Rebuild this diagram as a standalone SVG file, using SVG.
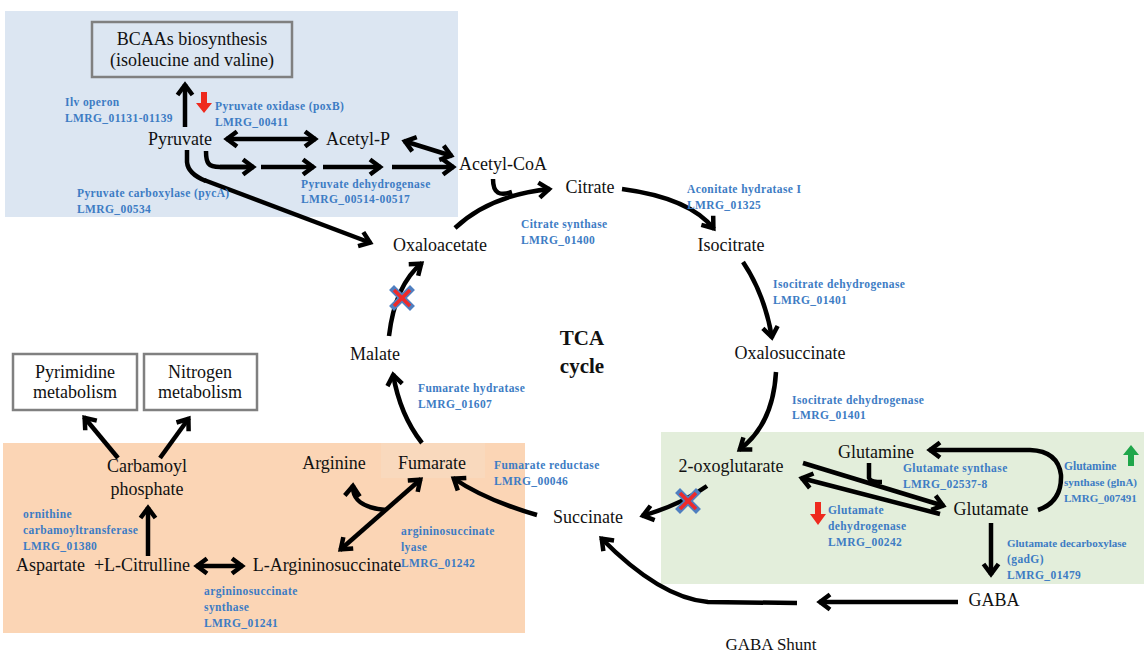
<svg xmlns="http://www.w3.org/2000/svg" width="1144" height="653" viewBox="0 0 1144 653">
<style>
.m{font-family:"Liberation Serif",serif;font-size:18px;fill:#111}
.b{font-family:"Liberation Serif",serif;font-size:11.5px;font-weight:bold;fill:#3d7cc4;letter-spacing:0.4px}
.t{font-family:"Liberation Serif",serif;font-size:21px;font-weight:bold;fill:#111}
.box{fill:#fff;stroke:#808080;stroke-width:2.5}
.a{fill:none;stroke:#000;stroke-width:4.5;marker-end:url(#ah)}
.d{fill:none;stroke:#000;stroke-width:4.5;marker-end:url(#ah);marker-start:url(#ah)}
.l{fill:none;stroke:#000;stroke-width:4.5}
.xb{stroke:#4f7fc0;stroke-width:7;stroke-linecap:square}
.xr{stroke:#ee2a2a;stroke-width:3.5}
</style>
<defs>
<marker id="ah" viewBox="-16 -12 20 24" refX="1" refY="0" markerWidth="20" markerHeight="24" markerUnits="userSpaceOnUse" orient="auto-start-reverse">
<path d="M-10,-7.5 L0,0 L-10,7.5" fill="none" stroke="#000" stroke-width="4.5"/>
</marker>
<g id="xm"><line class="xb" x1="-8" y1="-8" x2="8" y2="8"/><line class="xb" x1="8" y1="-8" x2="-8" y2="8"/><line class="xr" x1="-8" y1="-8" x2="8" y2="8"/><line class="xr" x1="8" y1="-8" x2="-8" y2="8"/></g>
</defs>
<rect width="1144" height="653" fill="#fff"/>
<g id="panels">
<rect x="5" y="11" width="453" height="206" fill="#dce6f2"/>
<rect x="3" y="443" width="522" height="190" fill="#fbd5b5"/>
<rect x="381" y="443" width="104" height="35" fill="#f9d9bd"/>
<rect x="661" y="432" width="483" height="152" fill="#e3eedb"/>
</g>
<g id="connectors">
<path class="a" d="M185,127 L185,84"/>
<path class="d" d="M226,139 L316,139"/>
<path class="d" d="M404,141 L452,156"/>
<path class="l" d="M206,151 C206,163 208,167 220,167 L252,167"/>
<path class="a" d="M220,167 L254,167"/>
<path class="a" d="M261,167 L314,167"/>
<path class="a" d="M323,167 L381,167"/>
<path class="a" d="M392,167 L454,167"/>
<path class="l" d="M187,150 L187,162 Q188,174 206,181"/>
<path class="a" d="M204,180 L371,243"/>
<path class="l" d="M493,179 C493,194 500,196 512,192"/>
<path class="a" d="M455,228 Q490,195 550,189"/>
<path class="a" d="M622,189 Q690,198 714,229"/>
<path class="a" d="M743,262 Q765,295 772,338"/>
<path class="a" d="M776,372 Q773,425 739,450"/>
<path class="a" d="M707,486 Q680,505 642,516"/>
<path class="a" d="M537,515 Q485,500 453,478"/>
<path class="a" d="M422,443 Q400,415 393,374"/>
<path class="a" d="M389,336 Q395,285 422,263"/>
<path class="d" d="M421,479 L340,550"/>
<path class="a" d="M386,510 C362,508 352,500 353,485"/>
<path class="d" d="M196,566 L243,566"/>
<path class="a" d="M148,556 L148,507"/>
<path class="a" d="M118,458 L84,417"/>
<path class="a" d="M160,458 L189,418"/>
<path class="a" d="M958,602 L819,602"/>
<path class="a" d="M797,603 L708,602 Q660,598 601,538"/>
<path class="a" d="M991,523 L991,575"/>
<path class="a" d="M803,463 L944,506"/>
<path class="a" d="M940,514 L801,478"/>
<path class="l" d="M869,463 L869,478 Q870,482 882,482"/>
<path class="a" d="M1038,510 Q1062,502 1061,475 Q1058,451 1030,450 L929,450"/>
<use href="#xm" x="402" y="298"/>
<use href="#xm" x="688" y="501"/>
<polygon points="201,92 207,92 207,103 212,103 204,113 196,103 201,103" fill="#ee2a1e"/>
<polygon points="815,502 821,502 821,514 826,514 818,525 810,514 815,514" fill="#ee2a1e"/>
<polygon points="1128,466 1134,466 1134,455 1139,455 1131,445 1123,455 1128,455" fill="#1fa64a"/>
</g>
<g id="n-bcaa"><rect class="box" x="92" y="22" width="200" height="55" style="fill:#dce6f2"/><text class="m" x="192" y="45" text-anchor="middle">BCAAs biosynthesis</text><text class="m" x="192" y="66" text-anchor="middle">(isoleucine and valine)</text></g>
<g id="n-pyrimidine"><rect class="box" x="13" y="354" width="124" height="56"/><text class="m" x="75" y="378" text-anchor="middle">Pyrimidine</text><text class="m" x="75" y="398" text-anchor="middle">metabolism</text></g>
<g id="n-nitrogen"><rect class="box" x="144" y="354" width="113" height="56"/><text class="m" x="200" y="378" text-anchor="middle">Nitrogen</text><text class="m" x="200" y="398" text-anchor="middle">metabolism</text></g>
<g id="n-pyruvate"><text class="m" x="180" y="145" text-anchor="middle">Pyruvate</text></g>
<g id="n-acetylp"><text class="m" x="358" y="145" text-anchor="middle">Acetyl-P</text></g>
<g id="n-acetylcoa"><text class="m" x="503" y="170" text-anchor="middle">Acetyl-CoA</text></g>
<g id="n-citrate"><text class="m" x="590" y="193" text-anchor="middle">Citrate</text></g>
<g id="n-isocitrate"><text class="m" x="731" y="251" text-anchor="middle">Isocitrate</text></g>
<g id="n-oxalosuccinate"><text class="m" x="790" y="359" text-anchor="middle">Oxalosuccinate</text></g>
<g id="n-oxoglutarate"><text class="m" x="731" y="472" text-anchor="middle">2-oxoglutarate</text></g>
<g id="n-glutamine"><text class="m" x="876" y="458" text-anchor="middle">Glutamine</text></g>
<g id="n-glutamate"><text class="m" x="991" y="515" text-anchor="middle">Glutamate</text></g>
<g id="n-gaba"><text class="m" x="994" y="606" text-anchor="middle">GABA</text></g>
<g id="n-gabashunt"><text class="m" x="771" y="650" text-anchor="middle" style="font-size:17px">GABA Shunt</text></g>
<g id="n-succinate"><text class="m" x="588" y="523" text-anchor="middle">Succinate</text></g>
<g id="n-fumarate"><text class="m" x="432" y="469" text-anchor="middle">Fumarate</text></g>
<g id="n-arginine"><text class="m" x="334" y="469" text-anchor="middle">Arginine</text></g>
<g id="n-malate"><text class="m" x="375" y="360" text-anchor="middle">Malate</text></g>
<g id="n-oxaloacetate"><text class="m" x="440" y="251" text-anchor="middle">Oxaloacetate</text></g>
<g id="n-tca"><text class="t" x="582" y="345" text-anchor="middle">TCA</text><text class="t" x="582" y="373" text-anchor="middle">cycle</text></g>
<g id="n-argsucc"><text class="m" x="327" y="571" text-anchor="middle">L-Argininosuccinate</text></g>
<g id="n-citrulline"><text class="m" x="16" y="571">Aspartate&#160; +L-Citrulline</text></g>
<g id="n-carbamoyl"><text class="m" x="147" y="472" text-anchor="middle">Carbamoyl</text><text class="m" x="147" y="495" text-anchor="middle">phosphate</text></g>
<g id="labels">
<text class="b" x="65" y="106">Ilv operon</text><text class="b" x="65" y="122">LMRG_01131-01139</text>
<text class="b" x="215" y="110">Pyruvate oxidase (poxB)</text><text class="b" x="215" y="126">LMRG_00411</text>
<text class="b" x="301" y="188">Pyruvate dehydrogenase</text><text class="b" x="301" y="203">LMRG_00514-00517</text>
<text class="b" x="77" y="197">Pyruvate carboxylase (pycA)</text><text class="b" x="77" y="213">LMRG_00534</text>
<text class="b" x="521" y="228">Citrate synthase</text><text class="b" x="521" y="244">LMRG_01400</text>
<text class="b" x="687" y="193">Aconitate hydratase I</text><text class="b" x="687" y="209">LMRG_01325</text>
<text class="b" x="773" y="288">Isocitrate dehydrogenase</text><text class="b" x="773" y="304">LMRG_01401</text>
<text class="b" x="792" y="404">Isocitrate dehydrogenase</text><text class="b" x="792" y="419">LMRG_01401</text>
<text class="b" x="903" y="472">Glutamate synthase</text><text class="b" x="903" y="488">LMRG_02537-8</text>
<text class="b" x="828" y="514">Glutamate</text><text class="b" x="828" y="530">dehydrogenase</text><text class="b" x="828" y="546">LMRG_00242</text>
<text class="b" x="1064" y="470" style="letter-spacing:0">Glutamine</text><text class="b" x="1064" y="486" style="letter-spacing:0;font-size:11px">synthase (glnA)</text><text class="b" x="1064" y="502" style="letter-spacing:0;font-size:11px">LMRG_007491</text>
<text class="b" x="1007" y="547" style="letter-spacing:0;font-size:11px">Glutamate decarboxylase</text><text class="b" x="1007" y="563">(gadG)</text><text class="b" x="1007" y="579">LMRG_01479</text>
<text class="b" x="494" y="469">Fumarate reductase</text><text class="b" x="494" y="485">LMRG_00046</text>
<text class="b" x="418" y="392">Fumarate hydratase</text><text class="b" x="418" y="408">LMRG_01607</text>
<text class="b" x="401" y="535">argininosuccinate</text><text class="b" x="401" y="551">lyase</text><text class="b" x="401" y="567">LMRG_01242</text>
<text class="b" x="204" y="595">argininosuccinate</text><text class="b" x="204" y="611">synthase</text><text class="b" x="204" y="627">LMRG_01241</text>
<text class="b" x="23" y="518">ornithine</text><text class="b" x="23" y="534">carbamoyltransferase</text><text class="b" x="23" y="550">LMRG_01380</text>
</g>
</svg>
